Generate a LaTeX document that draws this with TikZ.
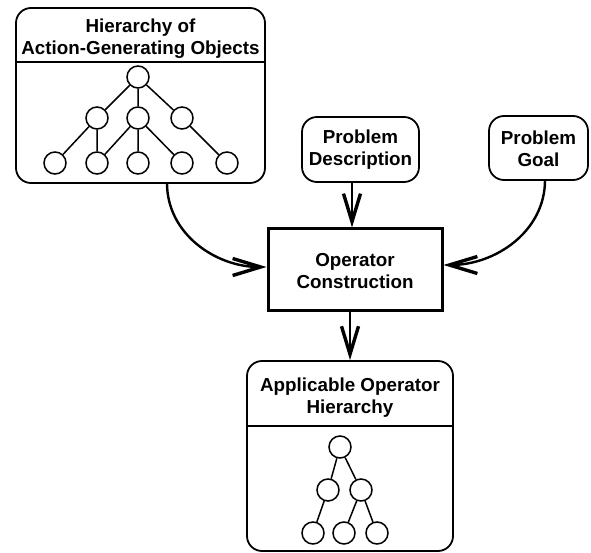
\documentclass[tikz,border=0pt]{standalone}
\usepackage{fontspec}
\setmainfont{Liberation Sans}
\usetikzlibrary{arrows.meta}
\tikzset{
  rbox/.style={draw=black,line width=1.8pt,rounded corners=15pt,inner sep=0pt},  % rounded boxes
  sbox/.style={draw=black,line width=3pt,inner sep=0pt},                          % square box
  title/.style={align=center,font=\fontsize{18.8}{22}\selectfont\bfseries,inner sep=0pt},
  tnode/.style={circle,draw=black,line width=1.5pt,minimum size=22pt,inner sep=0pt},% tree node
  tedge/.style={line width=1.5pt},
  conn/.style={line width=2.4pt,-{Straight Barb[length=28pt,width=17pt,line width=3.4pt]}},
}
\begin{document}
\begin{tikzpicture}[x=1pt,y=-1pt]
  \useasboundingbox (0,0) rectangle (591,553);
  % hierarchy of action-generating objects
  \node[rbox,minimum width=249pt,minimum height=175pt] (hier) at (140.5,95.5) {};
  \node[title] (hiertitle) at (140.5,39) {Hierarchy of\\Action-Generating Objects};
  \draw[line width=1.5pt] (hier.west |- 0,62) -- (hier.east |- 0,62);
  \node[tnode] (h) at (138,77) {};
  \node[tnode] (ha) at (97,118) {};
  \node[tnode] (hb) at (138,118) {};
  \node[tnode] (hc) at (182,118) {};
  \foreach \x [count=\i] in {55,97,138,182,227}
    \node[tnode] (hl\i) at (\x,163) {};
  \draw[tedge] (h) -- (ha) (h) -- (hb) (h) -- (hc);
  \draw[tedge] (ha) -- (hl1) (ha) -- (hl2);
  \draw[tedge] (hb) -- (hl2) (hb) -- (hl3) (hb) -- (hl4);
  \draw[tedge] (hc) -- (hl5);
  % problem boxes
  \node[rbox,minimum width=117pt,minimum height=65pt] (pdesc) at (360.5,149.5) {};
  \node[title] (pdesctitle) at (360.5,150) {Problem\\Description};
  \node[rbox,minimum width=99pt,minimum height=64pt] (pgoal) at (538.5,148) {};
  \node[title] (pgoaltitle) at (538.5,149) {Problem\\Goal};
  % operator construction
  \node[sbox,minimum width=174pt,minimum height=81pt] (opc) at (355,269.5) {};
  \node[title] (opctitle) at (355,271) {Operator\\Construction};
  % applicable operator hierarchy
  \node[rbox,minimum width=206pt,minimum height=190pt] (aoh) at (350,456) {};
  \node[title] (aohtitle) at (350,398) {Applicable Operator\\Hierarchy};
  \draw[line width=1.5pt] (aoh.west |- 0,426) -- (aoh.east |- 0,426);
  \node[tnode] (a) at (340,447) {};
  \node[tnode] (aa) at (328,490) {};
  \node[tnode] (ab) at (361,490) {};
  \node[tnode] (al1) at (313,533) {};
  \node[tnode] (al2) at (344,533) {};
  \node[tnode] (al3) at (377,533) {};
  \draw[tedge] (a) -- (aa) (a) -- (ab);
  \draw[tedge] (aa) -- (al1) (ab) -- (al2) (ab) -- (al3);
  % connectors
  \coordinate (hierout) at (167,183);
  \coordinate (goalout) at (545,180);
  \draw[conn] (hierout) to[out=-90,in=180] (opc.west |- 0,267);
  \draw[conn] (goalout) to[out=-90,in=0] (opc.east |- 0,265);
  \draw[conn] (pdesc.south -| 352,0) -- (opc.north -| 352,0);
  \draw[conn] (opc.south -| 350,0) -- (aoh.north -| 350,0);
\end{tikzpicture}
\end{document}
